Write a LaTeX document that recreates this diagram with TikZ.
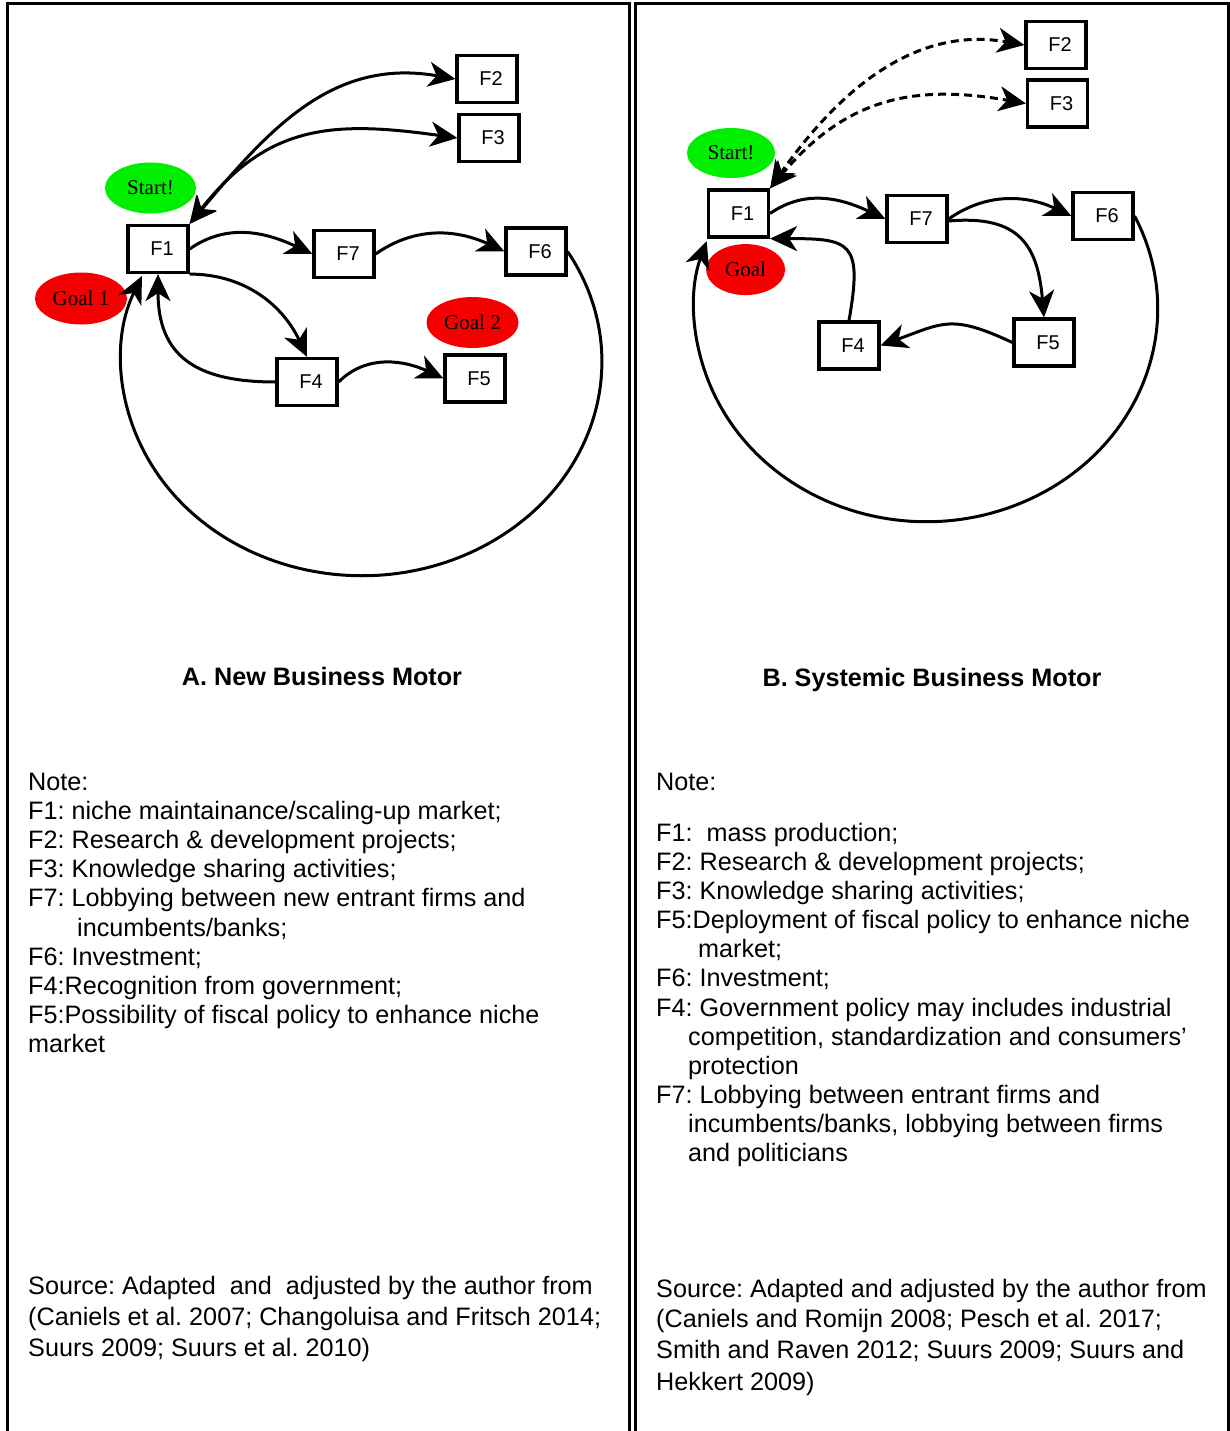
\documentclass[tikz,border=0pt]{standalone}
\usepackage{fontspec}
\setmainfont{Liberation Sans}
\newfontfamily\ellfont{Liberation Serif}
\usetikzlibrary{arrows.meta,shapes.geometric}

\definecolor{startgreen}{RGB}{0,238,0}
\definecolor{goalred}{RGB}{245,0,0}

\begin{document}
\frenchspacing
\begin{tikzpicture}[x=1pt,y=1pt,
  factor/.style={draw, line width=3.2pt, minimum width=60pt, minimum height=47pt,
    inner sep=0pt, font=\fontsize{20}{24}\selectfont},
  marker/.style={ellipse, inner sep=0pt, font=\ellfont\fontsize{21}{24}\selectfont},
  flow/.style={line width=3pt, -{Stealth[length=27pt,width=25pt,inset=8pt]}},
  twoway/.style={line width=3pt,
    {Stealth[length=27pt,width=25pt,inset=8pt]}-{Stealth[length=27pt,width=25pt,inset=8pt]}},
  dashflow/.style={twoway, dash pattern=on 8pt off 5pt},
  notetext/.style={anchor=base west, inner sep=0pt, font=\fontsize{25.2}{29}\selectfont},
  heading/.style={anchor=base, inner sep=0pt, font=\bfseries\fontsize{25.2}{29}\selectfont},
  frame/.style={line width=3pt, line join=miter}
]
\useasboundingbox (0,0) rectangle (1230,-1431);

% panel frames (open at the bottom)
\draw[frame] (7,-1431) -- (7,-4) -- (629,-4) -- (629,-1431);
\draw[frame] (635,-1431) -- (635,-4) -- (1228.5,-4) -- (1228.5,-1431);

% ---------------- Panel A: New Business Motor ----------------
\node[marker, fill=startgreen, minimum width=91pt, minimum height=51pt] (aStart) at (150.5,-188) {Start!};
\node[marker, fill=goalred, minimum width=92pt, minimum height=52pt] (aGoal1) at (81,-298.5) {Goal 1};
\node[marker, fill=goalred, minimum width=92pt, minimum height=51pt] (aGoal2) at (472.5,-322.5) {Goal 2};

\node[factor] (aF1) at (158,-249) {\hspace*{8pt}F1};
\node[factor] (aF2) at (487,-79) {\hspace*{8pt}F2};
\node[factor] (aF3) at (489,-138) {\hspace*{8pt}F3};
\node[factor] (aF7) at (344,-254) {\hspace*{8pt}F7};
\node[factor] (aF6) at (536,-251.5) {\hspace*{8pt}F6};
\node[factor] (aF4) at (307,-382) {\hspace*{8pt}F4};
\node[factor] (aF5) at (475,-378.5) {\hspace*{8pt}F5};

\draw[twoway] (aF1.north east) to[out=50,in=170,looseness=1.05] (aF2.west);
\draw[twoway] (aF1.north east) to[out=52,in=172,looseness=1.15] (aF3.west);
\draw[flow] (aF1.east) to[out=35,in=155] (aF7.west);
\draw[flow] (aF7.east) to[out=35,in=155] (aF6.west);
\draw[flow] (aF4.east) to[out=45,in=155] (aF5.west);
\draw[flow] (aF1.south east) to[out=0,in=115] (aF4.north);
\draw[flow] (aF4.west) to[out=180,in=-90,looseness=1.3] (aF1.south);
\draw[flow] (aF6.east) arc[start angle=31, end angle=-203.6, x radius=240, y radius=214];

% ---------------- Panel B: Systemic Business Motor ----------------
\node[marker, fill=startgreen, minimum width=88pt, minimum height=50pt] (bStart) at (731,-153) {Start!};
\node[marker, fill=goalred, minimum width=79pt, minimum height=51pt] (bGoal) at (745.6,-269.6) {Goal};

\node[factor] (bF1) at (738.5,-213.5) {\hspace*{8pt}F1};
\node[factor] (bF2) at (1056,-45) {\hspace*{8pt}F2};
\node[factor] (bF3) at (1057.5,-103.5) {\hspace*{8pt}F3};
\node[factor] (bF7) at (917,-219) {\hspace*{8pt}F7};
\node[factor] (bF6) at (1103,-216) {\hspace*{8pt}F6};
\node[factor] (bF4) at (849,-345.5) {\hspace*{8pt}F4};
\node[factor] (bF5) at (1044,-342.5) {\hspace*{8pt}F5};

\draw[dashflow] (bF1.north east) to[out=55,in=170] (bF2.west);
\draw[dashflow] (bF1.north east) to[out=50,in=170,looseness=1.1] (bF3.west);
\draw[flow] (bF1.east) to[out=35,in=155] (bF7.west);
\draw[flow] (bF7.east) to[out=35,in=155] (bF6.west);
\draw[flow] ([yshift=-2pt]bF7.east) to[out=5,in=95,looseness=1.35] (bF5.north);
\draw[flow] (bF5.west) to[out=155,in=20,looseness=1.3] (bF4.east);
\draw[flow] (bF4.north) to[out=80,in=0,looseness=1.8] (bF1.south east);
\draw[flow] (bF6.east) arc[start angle=25.8, end angle=-198.5, x radius=231.5, y radius=213];

% ---------------- Headings ----------------
\node[heading] (headA) at (322,-685) {A. New Business Motor};
\node[heading] (headB) at (932,-686) {B. Systemic Business Motor};

% ---------------- Notes, panel A ----------------
\node[notetext] (nA0) at (28,-790) {Note:};
\node[notetext] (nA1) at (28,-819) {F1: niche maintainance/scaling-up market;};
\node[notetext] (nA2) at (28,-848) {F2: Research \& development projects;};
\node[notetext] (nA3) at (28,-877) {F3: Knowledge sharing activities;};
\node[notetext] (nA4) at (28,-906) {F7: Lobbying between new entrant firms and};
\node[notetext] (nA5) at (77,-936) {incumbents/banks;};
\node[notetext] (nA6) at (28,-965) {F6: Investment;};
\node[notetext] (nA7) at (28,-994) {F4:Recognition from government;};
\node[notetext] (nA8) at (28,-1023) {F5:Possibility of fiscal policy to enhance niche};
\node[notetext] (nA9) at (28,-1052) {market};

\node[notetext] (sA1) at (28,-1294) {Source: Adapted\ \ and\ \ adjusted by the author from};
\node[notetext] (sA2) at (28,-1325) {(Caniels et al. 2007; Changoluisa and Fritsch 2014;};
\node[notetext] (sA3) at (28,-1356) {Suurs 2009; Suurs et al. 2010)};

% ---------------- Notes, panel B ----------------
\node[notetext] (nB0) at (656,-790) {Note:};
\node[notetext] (nB1) at (656,-841) {F1:\ \ mass production;};
\node[notetext] (nB2) at (656,-870) {F2: Research \& development projects;};
\node[notetext] (nB3) at (656,-899) {F3: Knowledge sharing activities;};
\node[notetext] (nB4) at (656,-928) {F5:Deployment of fiscal policy to enhance niche};
\node[notetext] (nB5) at (698,-957) {market;};
\node[notetext] (nB6) at (656,-986) {F6: Investment;};
\node[notetext] (nB7) at (656,-1016) {F4: Government policy may includes industrial};
\node[notetext] (nB8) at (688,-1045) {competition, standardization and consumers’};
\node[notetext] (nB9) at (688,-1074) {protection};
\node[notetext] (nB10) at (656,-1103) {F7: Lobbying between entrant firms and};
\node[notetext] (nB11) at (688,-1132) {incumbents/banks, lobbying between firms};
\node[notetext] (nB12) at (688,-1161) {and politicians};

\node[notetext] (sB1) at (656,-1297) {Source: Adapted and adjusted by the author from};
\node[notetext] (sB2) at (656,-1327) {(Caniels and Romijn 2008; Pesch et al. 2017;};
\node[notetext] (sB3) at (656,-1358) {Smith and Raven 2012; Suurs 2009; Suurs and};
\node[notetext] (sB4) at (656,-1390) {Hekkert 2009)};
\end{tikzpicture}
\end{document}
